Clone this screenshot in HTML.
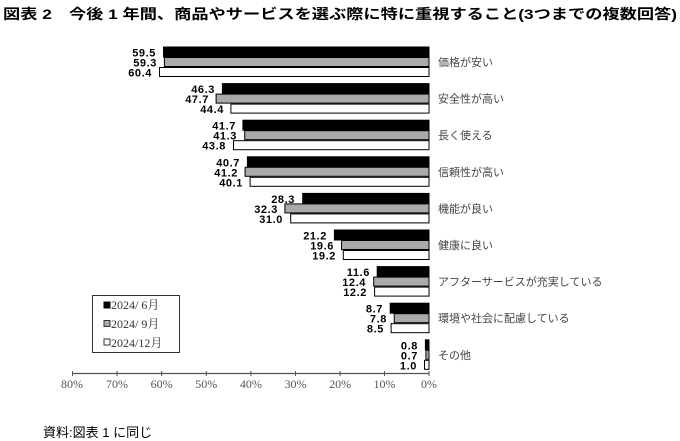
<!DOCTYPE html>
<html><head><meta charset="utf-8"><style>
html,body{margin:0;padding:0;background:#fff;}
svg{display:block;}
.v{font:bold 11px "Liberation Sans",sans-serif;text-anchor:end;fill:#000;letter-spacing:0.6px;}
.c{font:11px "Liberation Sans","Noto Sans CJK JP",sans-serif;fill:#444;}
.t{font:12px "Liberation Serif",serif;fill:#555;text-anchor:middle;}
.lg{font:12px "Liberation Serif","Noto Serif CJK SC",serif;fill:#333;}
</style></head><body>
<svg width="680" height="441" viewBox="0 0 680 441" xmlns="http://www.w3.org/2000/svg">
<text x="3" y="19" textLength="674" lengthAdjust="spacingAndGlyphs" style="font:bold 14px 'Liberation Sans','Noto Sans CJK JP',sans-serif">図表 2　今後 1 年間、商品やサービスを選ぶ際に特に重視すること(3つまでの複数回答)</text>
<g stroke="#000" stroke-width="1">
<rect x="163.5" y="47" width="265.5" height="10" fill="#000"/>
<rect x="164.4" y="57.5" width="264.6" height="9" fill="#aaa"/>
<rect x="159.5" y="67.5" width="269.5" height="9" fill="#fff"/>
<rect x="222.4" y="83.6" width="206.6" height="10" fill="#000"/>
<rect x="216.1" y="94.1" width="212.9" height="9" fill="#aaa"/>
<rect x="230.9" y="104.1" width="198.1" height="9" fill="#fff"/>
<rect x="242.9" y="120.2" width="186.1" height="10" fill="#000"/>
<rect x="244.7" y="130.7" width="184.3" height="9" fill="#aaa"/>
<rect x="233.5" y="140.7" width="195.5" height="9" fill="#fff"/>
<rect x="247.4" y="156.8" width="181.6" height="10" fill="#000"/>
<rect x="245.1" y="167.3" width="183.9" height="9" fill="#aaa"/>
<rect x="250.1" y="177.3" width="178.9" height="9" fill="#fff"/>
<rect x="302.7" y="193.4" width="126.3" height="10" fill="#000"/>
<rect x="284.9" y="203.9" width="144.1" height="9" fill="#aaa"/>
<rect x="290.7" y="213.9" width="138.3" height="9" fill="#fff"/>
<rect x="334.4" y="230" width="94.6" height="10" fill="#000"/>
<rect x="341.5" y="240.5" width="87.5" height="9" fill="#aaa"/>
<rect x="343.3" y="250.5" width="85.7" height="9" fill="#fff"/>
<rect x="377.2" y="266.6" width="51.8" height="10" fill="#000"/>
<rect x="373.7" y="277.1" width="55.3" height="9" fill="#aaa"/>
<rect x="374.6" y="287.1" width="54.4" height="9" fill="#fff"/>
<rect x="390.2" y="303.2" width="38.8" height="10" fill="#000"/>
<rect x="394.2" y="313.7" width="34.8" height="9" fill="#aaa"/>
<rect x="391.1" y="323.7" width="37.9" height="9" fill="#fff"/>
<rect x="425.4" y="339.8" width="3.6" height="10" fill="#000"/>
<rect x="425.9" y="350.3" width="3.1" height="9" fill="#aaa"/>
<rect x="424.5" y="360.3" width="4.5" height="9" fill="#fff"/>
</g>
<g class="v" transform="translate(-5,0.5)">
<text x="161" y="56">59.5</text><text x="162" y="66">59.3</text><text x="157" y="76">60.4</text>
<text x="220" y="92.6">46.3</text><text x="214" y="102.6">47.7</text><text x="229" y="112.6">44.4</text>
<text x="241" y="129.2">41.7</text><text x="242" y="139.2">41.3</text><text x="231" y="149.2">43.8</text>
<text x="245" y="165.8">40.7</text><text x="243" y="175.8">41.2</text><text x="248" y="185.8">40.1</text>
<text x="300" y="202.4">28.3</text><text x="283" y="212.4">32.3</text><text x="288" y="222.4">31.0</text>
<text x="332" y="239">21.2</text><text x="339" y="249">19.6</text><text x="341" y="259">19.2</text>
<text x="375" y="275.6">11.6</text><text x="371" y="285.6">12.4</text><text x="372" y="295.6">12.2</text>
<text x="388" y="312.2">8.7</text><text x="392" y="322.2">7.8</text><text x="389" y="332.2">8.5</text>
<text x="423" y="348.8">0.8</text><text x="423" y="358.8">0.7</text><text x="422" y="368.8">1.0</text>
</g>
<g class="c">
<text x="438" y="66">価格が安い</text>
<text x="438" y="102.6">安全性が高い</text>
<text x="438" y="139.2">長く使える</text>
<text x="438" y="175.8">信頼性が高い</text>
<text x="438" y="212.4">機能が良い</text>
<text x="438" y="249">健康に良い</text>
<text x="438" y="285.6">アフターサービスが充実している</text>
<text x="438" y="322.2">環境や社会に配慮している</text>
<text x="438" y="358.8">その他</text>
</g>
<line x1="72" y1="373.5" x2="429" y2="373.5" stroke="#555" stroke-width="1.2"/>
<g stroke="#555">
<line x1="72.5" y1="371" x2="72.5" y2="376"/><line x1="117" y1="371" x2="117" y2="376"/><line x1="161.6" y1="371" x2="161.6" y2="376"/><line x1="206.3" y1="371" x2="206.3" y2="376"/><line x1="250.9" y1="371" x2="250.9" y2="376"/><line x1="295.5" y1="371" x2="295.5" y2="376"/><line x1="340.1" y1="371" x2="340.1" y2="376"/><line x1="384.5" y1="371" x2="384.5" y2="376"/><line x1="429" y1="371" x2="429" y2="376"/>
</g>
<g class="t">
<text x="72" y="388">80%</text><text x="117" y="388">70%</text><text x="161.6" y="388">60%</text><text x="206.3" y="388">50%</text><text x="250.9" y="388">40%</text><text x="295.5" y="388">30%</text><text x="340.1" y="388">20%</text><text x="384.5" y="388">10%</text><text x="429" y="388">0%</text>
</g>
<rect x="92.5" y="295.5" width="87" height="57" fill="#fff" stroke="#333"/>
<rect x="104" y="302" width="6" height="6" fill="#000" stroke="#000"/>
<rect x="104" y="320.5" width="6" height="6" fill="#aaa" stroke="#333"/>
<rect x="104" y="339" width="6" height="6" fill="#fff" stroke="#333"/>
<g class="lg">
<text x="111" y="309">2024/ 6月</text>
<text x="111" y="328">2024/ 9月</text>
<text x="111" y="347">2024/12月</text>
</g>
<text x="43" y="437" style="font:13px 'Liberation Sans','Noto Sans CJK JP',sans-serif">資料:図表 1 に同じ</text>
</svg>
</body></html>
